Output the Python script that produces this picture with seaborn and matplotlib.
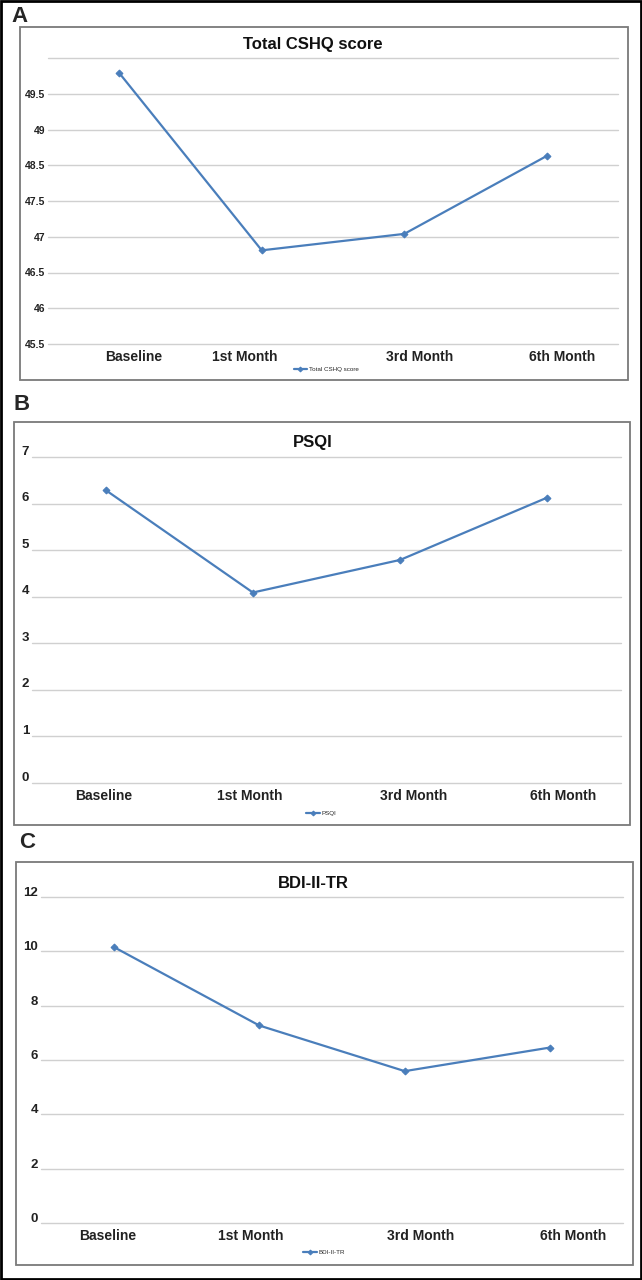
import matplotlib
matplotlib.use("Agg")
import matplotlib.pyplot as plt
import matplotlib.transforms as mtransforms
from matplotlib.patches import Rectangle
import pandas as pd
import seaborn as sns

sns.set_theme(style="white")
plt.rcParams['font.family'] = ['Liberation Sans', 'DejaVu Sans']

# data
visits = ["Baseline", "1st Month", "3rd Month", "6th Month"]
cshq = [49.29, 46.81, 47.04, 48.13]
psqi = [6.29, 4.09, 4.79, 6.13]
bdi = [10.16, 7.27, 5.59, 6.46]

cshq_ticks = [45.5, 46, 46.5, 47, 47.5, 48, 48.5, 49, 49.5]
cshq_tick_labels = ["45.5", "46", "46.5", "47", "47.5", "48.5", "49", "49.5", ""]
psqi_ticks = [0, 1, 2, 3, 4, 5, 6, 7]
psqi_tick_labels = ["0", "1", "2", "3", "4", "5", "6", "7"]
bdi_ticks = [0, 2, 4, 6, 8, 10, 12]
bdi_tick_labels = ["0", "2", "4", "6", "8", "10", "12"]

W, H = 642, 1280
BLUE = "#4a7ebb"

fig = plt.figure(figsize=(W / 100, H / 100), dpi=100)


def fx(px):
    return px / W


def fy(py):
    return 1 - py / H


panels = [
    dict(letter="A", letter_xy=(19, 16), box=(20, 27, 628, 380), area=(48, 58, 618, 344),
         title="Total CSHQ score", title_y=44, values=cshq, ticks=cshq_ticks,
         tick_labels=cshq_tick_labels, ytick_size=7.5, ytick_dy=0,
         xshift=[0.10, -0.12, 0.11, 0.11], legend_xy=(326, 369)),
    dict(letter="B", letter_xy=(22, 404), box=(14, 422, 630, 825), area=(32, 457, 621, 783),
         title="PSQI", title_y=442, values=psqi, ticks=psqi_ticks,
         tick_labels=psqi_tick_labels, ytick_size=9.5, ytick_dy=5,
         xshift=[-0.01, -0.02, 0.09, 0.11], legend_xy=(321, 813)),
    dict(letter="C", letter_xy=(27, 843), box=(16, 862, 633, 1265), area=(41, 897, 623, 1223),
         title="BDI-II-TR", title_y=883, values=bdi, ticks=bdi_ticks,
         tick_labels=bdi_tick_labels, ytick_size=9.5, ytick_dy=4,
         xshift=[-0.04, -0.06, 0.11, 0.16], legend_xy=(324, 1252)),
]

for p in panels:
    x0, y0, x1, y1 = p["box"]
    fig.patches.append(Rectangle((fx(x0), fy(y1)), fx(x1 - x0), (y1 - y0) / H,
                                 transform=fig.transFigure, fill=False,
                                 edgecolor="#7a7a7a", linewidth=1.3))
    fig.text(fx(p["letter_xy"][0]), fy(p["letter_xy"][1]), p["letter"],
             fontsize=16, fontweight="heavy", ha="center", va="center")

    a0, b0, a1, b1 = p["area"]
    ax = fig.add_axes([fx(a0), fy(b1), fx(a1 - a0), (b1 - b0) / H])
    df = pd.DataFrame({"visit": visits, "score": p["values"]})
    sns.lineplot(data=df, x="visit", y="score", ax=ax, color=BLUE, linewidth=1.6,
                 marker="D", markersize=3.5, markeredgecolor=BLUE, label=p["title"])

    ax.set_xlim(-0.5, len(visits) - 0.5)
    ax.set_ylim(p["ticks"][0], p["ticks"][-1])
    ax.set_yticks(p["ticks"])
    ax.set_yticklabels(p["tick_labels"], fontsize=p["ytick_size"], fontweight="bold")
    ax.set_xticks([i + s for i, s in enumerate(p["xshift"])])
    ax.set_xticklabels(visits, fontsize=10, fontweight="bold")
    ax.tick_params(axis="both", length=0, colors="#222222")
    ax.tick_params(axis="x", pad=4)
    ax.tick_params(axis="y", pad=2)
    ax.grid(axis="y", color="#d0d0d0", linewidth=1.0)
    for gl in ax.get_ygridlines():
        gl.set_clip_on(False)
    ax.set_axisbelow(True)
    for s in ax.spines.values():
        s.set_visible(False)
    ax.set_xlabel("")
    ax.set_ylabel("")
    ax.patch.set_alpha(0)

    off = mtransforms.ScaledTranslation(0, p["ytick_dy"] / 72, fig.dpi_scale_trans)
    for lab in ax.get_yticklabels():
        lab.set_transform(lab.get_transform() + off)

    fig.text(fx(313), fy(p["title_y"]), p["title"], fontsize=12, fontweight="bold",
             ha="center", va="center", color="#111111")

    ax.legend(loc="center", bbox_to_anchor=(fx(p["legend_xy"][0]), fy(p["legend_xy"][1])),
              bbox_transform=fig.transFigure, frameon=False, fontsize=4.5,
              handlelength=2.2, handletextpad=0.2, markerscale=0.7)

# outer frame
fig.patches.append(Rectangle((0.001, 0.001), 0.997, 0.998, transform=fig.transFigure,
                             fill=False, edgecolor="black", linewidth=2))

fig.savefig("out.png", dpi=100)
